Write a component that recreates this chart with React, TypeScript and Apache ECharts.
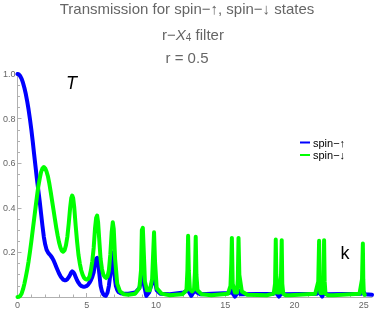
import React, { useEffect, useRef } from "react";
import * as echarts from "echarts";

const kUp = [0, 0.1, 0.2, 0.3, 0.4, 0.5, 0.6, 0.7, 0.8, 0.9, 1.0, 1.1, 1.2, 1.3, 1.4, 1.5, 1.6, 1.7, 1.8, 1.9, 2.0, 2.1, 2.2, 2.3, 2.4, 2.5, 2.6, 2.7, 2.8, 2.9, 3.0, 3.1, 3.2, 3.3, 3.4, 3.5, 3.6, 3.7, 3.8, 3.88, 3.95, 4.02, 4.1, 4.2, 4.3, 4.4, 4.5, 4.6, 4.7, 4.8, 4.9, 5.0, 5.1, 5.2, 5.3, 5.4, 5.5, 5.6, 5.68, 5.75, 5.82, 5.9, 6.0, 6.1, 6.2, 6.3, 6.38, 6.5, 6.6, 6.7, 6.78, 6.85, 6.92, 7.0, 7.1, 7.2, 7.3, 7.45, 7.6, 8.0, 8.5, 8.8, 8.95, 9.05, 9.15, 9.3, 9.5, 9.7, 9.82, 9.9, 10.05, 10.3, 11.0, 12.0, 12.25, 12.32, 12.4, 12.55, 12.7, 12.8, 12.88, 12.96, 13.2, 15.3, 15.42, 15.47, 15.55, 15.7, 15.85, 15.93, 15.98, 16.1, 18.5, 18.62, 18.67, 18.75, 18.88, 19.0, 19.08, 19.13, 19.25, 21.65, 21.77, 21.82, 21.9, 22.0, 22.08, 22.13, 22.18, 22.3, 24.85, 24.95, 25.0, 25.1, 25.6];
const tUp = [1.0, 0.998, 0.99, 0.978, 0.96, 0.937, 0.91, 0.877, 0.84, 0.797, 0.75, 0.697, 0.64, 0.585, 0.53, 0.48, 0.43, 0.375, 0.32, 0.27, 0.235, 0.212, 0.2, 0.192, 0.185, 0.176, 0.165, 0.15, 0.135, 0.12, 0.105, 0.094, 0.085, 0.078, 0.075, 0.075, 0.08, 0.089, 0.1, 0.11, 0.115, 0.112, 0.105, 0.09, 0.075, 0.064, 0.055, 0.05, 0.047, 0.046, 0.047, 0.05, 0.055, 0.064, 0.075, 0.09, 0.11, 0.15, 0.172, 0.175, 0.155, 0.11, 0.05, 0.025, 0.012, 0.006, 0.005, 0.02, 0.05, 0.1, 0.16, 0.2, 0.17, 0.1, 0.05, 0.032, 0.022, 0.017, 0.015, 0.015, 0.02, 0.04, 0.08, 0.09, 0.05, 0.005, 0.02, 0.06, 0.09, 0.08, 0.03, 0.015, 0.012, 0.02, 0.03, 0.04, 0.02, 0.005, 0.02, 0.03, 0.04, 0.02, 0.012, 0.018, 0.028, 0.03, 0.015, 0.002, 0.015, 0.03, 0.028, 0.012, 0.015, 0.025, 0.028, 0.012, 0.002, 0.012, 0.028, 0.025, 0.012, 0.015, 0.025, 0.028, 0.012, 0.002, 0.012, 0.028, 0.025, 0.012, 0.015, 0.02, 0.022, 0.012, 0.01];

const kDown = [0, 0.1, 0.2, 0.3, 0.4, 0.5, 0.6, 0.7, 0.8, 0.9, 1.0, 1.1, 1.2, 1.3, 1.4, 1.5, 1.6, 1.7, 1.8, 1.9, 2.0, 2.1, 2.2, 2.3, 2.4, 2.5, 2.6, 2.7, 2.8, 2.9, 3.0, 3.1, 3.2, 3.3, 3.4, 3.5, 3.6, 3.7, 3.8, 3.88, 3.95, 4.02, 4.1, 4.2, 4.3, 4.4, 4.5, 4.6, 4.7, 4.8, 4.9, 5.0, 5.1, 5.2, 5.3, 5.4, 5.5, 5.6, 5.68, 5.75, 5.82, 5.9, 6.0, 6.1, 6.2, 6.3, 6.4, 6.5, 6.6, 6.7, 6.8, 6.88, 6.95, 7.05, 7.2, 7.4, 7.7, 8.0, 8.5, 8.8, 8.92, 8.98, 9.05, 9.12, 9.2, 9.35, 9.55, 9.72, 9.8, 9.86, 9.93, 10.05, 10.4, 11.0, 11.9, 12.2, 12.27, 12.32, 12.37, 12.45, 12.6, 12.75, 12.82, 12.87, 12.92, 13.0, 13.3, 14.0, 15.2, 15.38, 15.44, 15.48, 15.54, 15.7, 15.85, 15.91, 15.96, 16.02, 16.2, 16.6, 18.0, 18.5, 18.6, 18.65, 18.69, 18.76, 18.92, 19.03, 19.08, 19.12, 19.19, 19.35, 19.7, 21.5, 21.72, 21.78, 21.82, 21.87, 22.02, 22.1, 22.14, 22.18, 22.24, 22.4, 22.8, 24.7, 24.88, 24.94, 24.97, 25.01, 25.08, 25.6];
const tDown = [0.0, 0.001, 0.005, 0.016, 0.035, 0.06, 0.09, 0.123, 0.16, 0.203, 0.25, 0.3, 0.35, 0.4, 0.45, 0.495, 0.53, 0.56, 0.577, 0.583, 0.577, 0.562, 0.54, 0.508, 0.47, 0.43, 0.39, 0.35, 0.31, 0.275, 0.245, 0.222, 0.207, 0.203, 0.21, 0.232, 0.27, 0.33, 0.4, 0.443, 0.455, 0.443, 0.4, 0.32, 0.25, 0.19, 0.15, 0.12, 0.1, 0.087, 0.08, 0.078, 0.081, 0.092, 0.12, 0.16, 0.22, 0.31, 0.355, 0.365, 0.335, 0.26, 0.17, 0.125, 0.1, 0.09, 0.085, 0.092, 0.12, 0.19, 0.29, 0.335, 0.305, 0.17, 0.06, 0.025, 0.012, 0.01, 0.015, 0.04, 0.12, 0.3, 0.31, 0.2, 0.07, 0.03, 0.03, 0.08, 0.2, 0.29, 0.16, 0.04, 0.015, 0.008, 0.012, 0.03, 0.12, 0.275, 0.12, 0.035, 0.025, 0.035, 0.12, 0.27, 0.1, 0.03, 0.012, 0.008, 0.015, 0.05, 0.15, 0.265, 0.06, 0.02, 0.02, 0.08, 0.265, 0.1, 0.025, 0.01, 0.008, 0.015, 0.06, 0.258, 0.1, 0.02, 0.02, 0.1, 0.255, 0.06, 0.015, 0.008, 0.008, 0.015, 0.07, 0.252, 0.07, 0.018, 0.018, 0.07, 0.255, 0.07, 0.015, 0.008, 0.008, 0.015, 0.08, 0.24, 0.08, 0.015, 0.01];

const seriesNames = ["spin\u2212\u2191", "spin\u2212\u2193"];
const xTicks = [0, 5, 10, 15, 20, 25];
const yTicks = [0.2, 0.4, 0.6, 0.8, 1.0];

export default function App() {
  const ref = useRef<HTMLDivElement>(null);
  useEffect(() => {
    if (!ref.current) return;
    const chart = echarts.init(ref.current, null, { renderer: "svg" });
    const font = "Liberation Sans, Arial, sans-serif";
    const axisGrey = "#b0b0b0";
    const labelGrey = "#666666";
    chart.setOption({
      animation: false,
      grid: { left: 15, right: 2, top: 74, bottom: 12, containLabel: false },
      xAxis: {
        type: "value",
        min: 0,
        max: 25.6,
        interval: 5,
        axisLine: { show: true, onZero: false, lineStyle: { color: axisGrey, width: 1 } },
        axisTick: { show: true, inside: true, length: 4, lineStyle: { color: axisGrey } },
        minorTick: { show: true, splitNumber: 5, length: 2.5, lineStyle: { color: axisGrey } },
        splitLine: { show: false },
        axisLabel: {
          show: true,
          color: labelGrey,
          fontSize: 9,
          fontFamily: font,
          margin: 3,
          showMaxLabel: false,
          formatter: (v: number) => (xTicks.some((t) => Math.abs(t - v) < 1e-6) ? String(Math.round(v)) : ""),
        },
      },
      yAxis: {
        type: "value",
        min: 0,
        max: 1,
        interval: 0.2,
        axisLine: { show: true, onZero: false, lineStyle: { color: axisGrey, width: 1 } },
        axisTick: { show: true, inside: true, length: 4, lineStyle: { color: axisGrey } },
        minorTick: { show: true, splitNumber: 4, length: 2.5, lineStyle: { color: axisGrey } },
        splitLine: { show: false },
        axisLabel: {
          color: labelGrey,
          fontSize: 9,
          fontFamily: font,
          margin: 2,
          formatter: (v: number) => {
            const hit = yTicks.find((t) => Math.abs(t - v) < 1e-6);
            return hit !== undefined ? hit.toFixed(1) : "";
          },
        },
      },
      legend: {
        orient: "vertical",
        left: 300,
        top: 137,
        itemWidth: 10,
        itemHeight: 2,
        itemGap: 1.5,
        icon: "rect",
        padding: 0,
        textStyle: { color: "#000", fontSize: 11, fontFamily: font, lineHeight: 11, padding: [0, 0, 0, -2] },
        data: seriesNames,
      },
      series: [
        {
          name: seriesNames[0],
          type: "line",
          data: kUp.map((k, i) => [k, tUp[i]]),
          showSymbol: false,
          smooth: false,
          clip: false,
          lineStyle: { color: "rgb(0,0,255)", width: 4, join: "round", cap: "round" },
          itemStyle: { color: "rgb(0,0,255)" },
          z: 2,
        },
        {
          name: seriesNames[1],
          type: "line",
          data: kDown.map((k, i) => [k, tDown[i]]),
          showSymbol: false,
          smooth: false,
          clip: false,
          lineStyle: { color: "rgb(0,255,0)", width: 4, join: "round", cap: "round" },
          itemStyle: { color: "rgb(0,255,0)" },
          z: 3,
        },
      ],
      graphic: [
        {
          type: "text",
          x: 187,
          y: 1,
          style: { text: "Transmission for spin\u2212\u2191, spin\u2212\u2193 states", fill: labelGrey, font: `15px ${font}`, align: "center", verticalAlign: "top" },
        },
        {
          type: "text",
          x: 193,
          y: 24,
          style: {
            text: "{n|r\u2212}{i|X}{s|4}{n| filter}",
            fill: labelGrey,
            align: "center",
            verticalAlign: "top",
            rich: {
              n: { fontSize: 15, fontFamily: font, fill: labelGrey, lineHeight: 18, verticalAlign: "bottom" },
              i: { fontSize: 15, fontFamily: font, fontStyle: "italic", fill: labelGrey, lineHeight: 18, verticalAlign: "bottom" },
              s: { fontSize: 10, fontFamily: font, fill: labelGrey, lineHeight: 8, verticalAlign: "bottom" },
            },
          },
        },
        {
          type: "text",
          x: 187,
          y: 50,
          style: { text: "r = 0.5", fill: labelGrey, font: `15px ${font}`, align: "center", verticalAlign: "top" },
        },
        {
          type: "text",
          x: 71.5,
          y: 83,
          style: { text: "T", fill: "#000", font: `italic 18px ${font}`, align: "center", verticalAlign: "middle" },
        },
        {
          type: "text",
          x: 345,
          y: 253,
          style: { text: "k", fill: "#000", font: `18px ${font}`, align: "center", verticalAlign: "middle" },
        },
      ],
    });
    return () => chart.dispose();
  }, []);
  return <div ref={ref} style={{ position: "fixed", left: 0, top: 0, width: 374, height: 309 }} />;
}
